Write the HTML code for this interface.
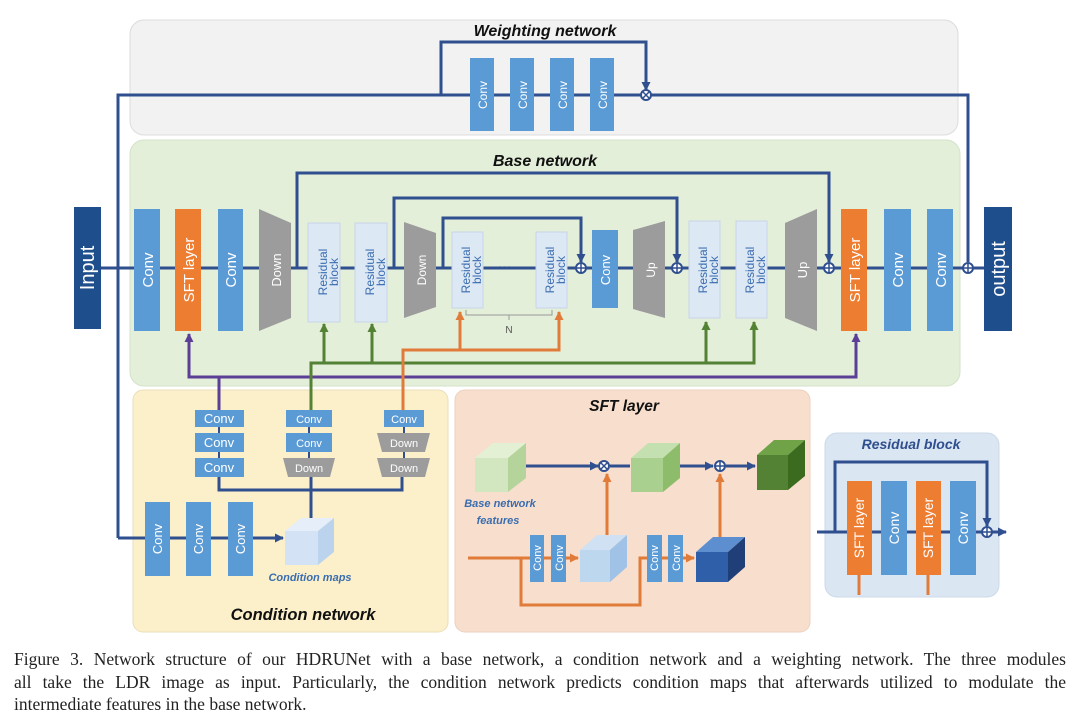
<!DOCTYPE html>
<html><head><meta charset="utf-8"><style>
html,body{margin:0;padding:0;background:#fff;width:1080px;height:728px;overflow:hidden}
svg text{font-family:"Liberation Sans",sans-serif}
.cap{position:absolute;left:14px;top:648px;width:1052px;font-family:"Liberation Serif",serif;font-size:17.5px;line-height:22.5px;color:#222}
.cap div{text-align:justify;text-align-last:justify;white-space:nowrap}
.cap div.last{text-align-last:left}
</style></head><body>
<svg width="1080" height="728" viewBox="0 0 1080 728" xmlns="http://www.w3.org/2000/svg" style="position:absolute;left:0;top:0">
<defs>
<marker id="ab" markerUnits="userSpaceOnUse" markerWidth="9" markerHeight="9" refX="8" refY="4.5" orient="auto"><path d="M0,0L9,4.5L0,9z" fill="#2f4f8f"/></marker>
<marker id="ao" markerUnits="userSpaceOnUse" markerWidth="9" markerHeight="9" refX="8" refY="4.5" orient="auto"><path d="M0,0L9,4.5L0,9z" fill="#e07b39"/></marker>
<marker id="ag" markerUnits="userSpaceOnUse" markerWidth="9" markerHeight="9" refX="8" refY="4.5" orient="auto"><path d="M0,0L9,4.5L0,9z" fill="#548235"/></marker>
<marker id="ap" markerUnits="userSpaceOnUse" markerWidth="9" markerHeight="9" refX="8" refY="4.5" orient="auto"><path d="M0,0L9,4.5L0,9z" fill="#5b3e96"/></marker>
</defs>
<rect x="0" y="0" width="1080" height="728" fill="#fff"/>
<rect x="130" y="20" width="828" height="115" rx="14" fill="#f2f2f2" stroke="#dcdcdc"/>
<rect x="130" y="140" width="830" height="246" rx="14" fill="#e4efda" stroke="#d5e2c9"/>
<rect x="133" y="390" width="315" height="242" rx="10" fill="#fcf0cb" stroke="#eadfb8"/>
<rect x="455" y="390" width="355" height="242" rx="10" fill="#f8dfcd" stroke="#ecd0bd"/>
<rect x="825" y="433" width="174" height="164" rx="12" fill="#dbe6f3" stroke="#ccd9ea"/>
<g font-weight="bold" font-style="italic" fill="#111" text-anchor="middle" font-size="16">
<text x="545" y="36">Weighting network</text>
<text x="545" y="166">Base network</text>
<text x="624" y="411" font-size="15.5">SFT layer</text>
<text x="303" y="620" font-size="16.5">Condition network</text>
</g>
<text x="911" y="449" text-anchor="middle" font-weight="bold" font-style="italic" font-size="14" fill="#2f4f8f">Residual block</text>

<g stroke="#2f4f8f" stroke-width="3" fill="none">
<polyline points="118,538 118,95 968,95 968,262"/>
<polyline points="441,95 441,42 646,42 646,90" marker-end="url(#ab)"/>
<line x1="101" y1="268" x2="984" y2="268"/>
<polyline points="297,268 297,173 829,173 829,262" marker-end="url(#ab)"/>
<polyline points="394,268 394,198 677,198 677,262" marker-end="url(#ab)"/>
<polyline points="443,268 443,218 581,218 581,262" marker-end="url(#ab)"/>
<line x1="118" y1="538" x2="283" y2="538" marker-end="url(#ab)"/>
<polyline points="219,477 219,490 402,490 402,477"/>
<line x1="311" y1="477" x2="311" y2="518"/>
<line x1="219" y1="427" x2="219" y2="458" stroke-width="2"/>
<line x1="309" y1="427" x2="309" y2="458" stroke-width="2"/>
<line x1="404" y1="427" x2="404" y2="458" stroke-width="2"/>
<line x1="526" y1="466" x2="598" y2="466" marker-end="url(#ab)"/>
<line x1="610" y1="466" x2="630" y2="466"/>
<line x1="680" y1="466" x2="713" y2="466" marker-end="url(#ab)"/>
<line x1="726" y1="466" x2="755" y2="466" marker-end="url(#ab)"/>
<line x1="817" y1="532" x2="1006" y2="532" marker-end="url(#ab)"/>
<polyline points="835,532 835,462 987,462 987,526" marker-end="url(#ab)"/>
</g>
<g fill="none" stroke-width="3">
<polyline stroke="#5b3e96" points="219,410 219,377 189,377 189,334" marker-end="url(#ap)"/>
<polyline stroke="#5b3e96" points="219,377 856,377 856,334" marker-end="url(#ap)"/>
<polyline stroke="#548235" points="311,410 311,363 754,363 754,322" marker-end="url(#ag)"/>
<polyline stroke="#548235" points="324,363 324,324" marker-end="url(#ag)"/>
<polyline stroke="#548235" points="372,363 372,324" marker-end="url(#ag)"/>
<polyline stroke="#548235" points="706,363 706,322" marker-end="url(#ag)"/>
<polyline stroke="#e07b39" points="403,410 403,350 559,350 559,312" marker-end="url(#ao)"/>
<polyline stroke="#e07b39" points="460,350 460,312" marker-end="url(#ao)"/>
<line stroke="#e07b39" x1="468" y1="558" x2="578" y2="558" marker-end="url(#ao)"/>
<polyline stroke="#e07b39" points="521,558 521,605 640,605 640,558 694,558" marker-end="url(#ao)"/>
<line stroke="#e07b39" x1="607" y1="535" x2="607" y2="474" marker-end="url(#ao)"/>
<line stroke="#e07b39" x1="720" y1="537" x2="720" y2="474" marker-end="url(#ao)"/>
<line stroke="#e07b39" x1="859" y1="575" x2="859" y2="595"/>
<line stroke="#e07b39" x1="928" y1="575" x2="928" y2="595"/>
</g>
<polyline points="466,310 466,315 552,315 552,310" fill="none" stroke="#999" stroke-width="1"/>
<line x1="509" y1="315" x2="509" y2="320" stroke="#999"/>
<text x="509" y="333" font-size="10" fill="#555" text-anchor="middle">N</text>

<g>
<rect x="74" y="207" width="27" height="122" fill="#1f4e8c"/>
<rect x="984" y="207" width="28" height="124" fill="#1f4e8c"/>
<rect x="134" y="209" width="26" height="122" fill="#5b9bd5"/>
<rect x="175" y="209" width="26" height="122" fill="#ed7d31"/>
<rect x="218" y="209" width="25" height="122" fill="#5b9bd5"/>
<polygon points="259,209 291,223 291,318 259,331" fill="#9c9c9c"/>
<polygon points="404,222 436,233 436,307 404,318" fill="#9c9c9c"/>
<polygon points="633,230 665,221 665,318 633,309" fill="#9c9c9c"/>
<polygon points="785,223 817,209 817,331 785,318" fill="#9c9c9c"/>
<rect x="592" y="230" width="26" height="78" fill="#5b9bd5"/>
<rect x="841" y="209" width="26" height="122" fill="#ed7d31"/>
<rect x="884" y="209" width="27" height="122" fill="#5b9bd5"/>
<rect x="927" y="209" width="26" height="122" fill="#5b9bd5"/>
<g fill="#dde8f5" stroke="#c8d5e8">
<rect x="308" y="223" width="32" height="99"/>
<rect x="355" y="223" width="32" height="99"/>
<rect x="452" y="232" width="31" height="76"/>
<rect x="536" y="232" width="31" height="76"/>
<rect x="689" y="221" width="31" height="97"/>
<rect x="736" y="221" width="31" height="97"/>
</g>
<g fill="#5b9bd5">
<rect x="470" y="58" width="24" height="73"/><rect x="510" y="58" width="24" height="73"/>
<rect x="550" y="58" width="24" height="73"/><rect x="590" y="58" width="24" height="73"/>
<rect x="195" y="410" width="49" height="17"/><rect x="195" y="433" width="49" height="19"/><rect x="195" y="458" width="49" height="19"/>
<rect x="286" y="410" width="46" height="17"/><rect x="286" y="433" width="46" height="19"/>
<rect x="384" y="410" width="40" height="17"/>
<rect x="145" y="502" width="25" height="74"/><rect x="186" y="502" width="25" height="74"/><rect x="228" y="502" width="25" height="74"/>
<rect x="530" y="535" width="14" height="47"/><rect x="551" y="535" width="15" height="47"/>
<rect x="647" y="535" width="15" height="47"/><rect x="668" y="535" width="15" height="47"/>
<rect x="881" y="481" width="26" height="94"/><rect x="950" y="481" width="26" height="94"/>
</g>
<g fill="#ed7d31"><rect x="847" y="481" width="25" height="94"/><rect x="916" y="481" width="25" height="94"/></g>
<g fill="#9c9c9c">
<polygon points="283,458 335,458 330,477 288,477"/>
<polygon points="377,433 430,433 425,452 382,452"/>
<polygon points="377,458 430,458 425,477 382,477"/>
</g>
<g>
<polygon points="475,458 508,458 526,443 493,443" fill="#e3f0d3"/><polygon points="508,458 526,443 526,478 508,492" fill="#b5d49b"/><rect x="475" y="458" width="33" height="34" fill="#d2e7bf"/>
<polygon points="631,458 663,458 680,443 648,443" fill="#c5e0b0"/><polygon points="663,458 680,443 680,478 663,492" fill="#8dbd6a"/><rect x="631" y="458" width="32" height="34" fill="#a9d08e"/>
<polygon points="757,455 788,455 805,440 774,440" fill="#70a348"/><polygon points="788,455 805,440 805,476 788,490" fill="#3b6b1f"/><rect x="757" y="455" width="31" height="35" fill="#548235"/>
<polygon points="580,550 610,550 627,535 597,535" fill="#cfe1f3"/><polygon points="610,550 627,535 627,567 610,582" fill="#9fc2e6"/><rect x="580" y="550" width="30" height="32" fill="#bdd7ee"/>
<polygon points="696,552 728,552 745,537 713,537" fill="#5d8fd0"/><polygon points="728,552 745,537 745,567 728,582" fill="#203f78"/><rect x="696" y="552" width="32" height="30" fill="#2e5fa8"/>
<polygon points="285,531 318,531 334,518 301,518" fill="#e5eef9"/><polygon points="318,531 334,518 334,552 318,565" fill="#bcd3ee"/><rect x="285" y="531" width="33" height="34" fill="#d3e3f5"/>
</g>
</g>
<g fill="#fff" stroke="#2f4f8f" stroke-width="2">
<circle cx="646" cy="95" r="5"/><circle cx="581" cy="268" r="5"/><circle cx="677" cy="268" r="5"/><circle cx="829" cy="268" r="5"/><circle cx="968" cy="268" r="5"/><circle cx="604" cy="466" r="5"/><circle cx="720" cy="466" r="5"/><circle cx="987" cy="532" r="5"/>
</g>
<g stroke="#2f4f8f" stroke-width="1.5">
<path d="M643,92l6,6M649,92l-6,6M601,463l6,6M607,463l-6,6"/>
<path d="M581,263v10M576,268h10M677,263v10M672,268h10M829,263v10M824,268h10M968,263v10M963,268h10M720,461v10M715,466h10M987,527v10M982,532h10"/>
</g>
<text x="505" y="272" font-size="14" fill="#2f4f8f" text-anchor="middle" font-weight="bold">···</text>
<g fill="#fff" text-anchor="middle">
<text transform="translate(94,268) rotate(-90)" font-size="20">Input</text>
<text transform="translate(1005,269) rotate(-90)" font-size="20">output</text>
<g font-size="15">
<text transform="translate(153,270) rotate(-90)">Conv</text>
<text transform="translate(194,270) rotate(-90)">SFT layer</text>
<text transform="translate(236,270) rotate(-90)">Conv</text>
<text transform="translate(281,270) rotate(-90)" font-size="13">Down</text>
<text transform="translate(426,270) rotate(-90)" font-size="12">Down</text>
<text transform="translate(655,270) rotate(-90)" font-size="12">Up</text>
<text transform="translate(807,270) rotate(-90)" font-size="13">Up</text>
<text transform="translate(610,270) rotate(-90)" font-size="13">Conv</text>
<text transform="translate(860,270) rotate(-90)">SFT layer</text>
<text transform="translate(903,270) rotate(-90)">Conv</text>
<text transform="translate(946,270) rotate(-90)">Conv</text>
</g>
<g font-size="12">
<text transform="translate(487,95) rotate(-90)">Conv</text><text transform="translate(527,95) rotate(-90)">Conv</text><text transform="translate(567,95) rotate(-90)">Conv</text><text transform="translate(607,95) rotate(-90)">Conv</text>
<text transform="translate(162,539) rotate(-90)" font-size="13">Conv</text><text transform="translate(203,539) rotate(-90)" font-size="13">Conv</text><text transform="translate(245,539) rotate(-90)" font-size="13">Conv</text>
<text transform="translate(541,558) rotate(-90)" font-size="11">Conv</text><text transform="translate(563,558) rotate(-90)" font-size="11">Conv</text>
<text transform="translate(658,558) rotate(-90)" font-size="11">Conv</text><text transform="translate(680,558) rotate(-90)" font-size="11">Conv</text>
<text transform="translate(864,528) rotate(-90)" font-size="14">SFT layer</text><text transform="translate(899,528) rotate(-90)" font-size="14">Conv</text>
<text transform="translate(933,528) rotate(-90)" font-size="14">SFT layer</text><text transform="translate(968,528) rotate(-90)" font-size="14">Conv</text>
</g>
<g font-size="13">
<text x="219" y="423">Conv</text><text x="219" y="447">Conv</text><text x="219" y="472">Conv</text>
<text x="309" y="423" font-size="11">Conv</text><text x="309" y="447" font-size="11">Conv</text><text x="309" y="472" font-size="11">Down</text>
<text x="404" y="423" font-size="11">Conv</text><text x="404" y="447" font-size="11">Down</text><text x="404" y="472" font-size="11">Down</text>
</g>
</g>
<g fill="#3a6db0" text-anchor="middle" font-size="12">
<text transform="translate(327,272) rotate(-90)">Residual</text><text transform="translate(338,272) rotate(-90)">block</text>
<text transform="translate(374,272) rotate(-90)">Residual</text><text transform="translate(385,272) rotate(-90)">block</text>
<text transform="translate(470,270) rotate(-90)">Residual</text><text transform="translate(481,270) rotate(-90)">block</text>
<text transform="translate(554,270) rotate(-90)">Residual</text><text transform="translate(565,270) rotate(-90)">block</text>
<text transform="translate(707,270) rotate(-90)">Residual</text><text transform="translate(718,270) rotate(-90)">block</text>
<text transform="translate(754,270) rotate(-90)">Residual</text><text transform="translate(765,270) rotate(-90)">block</text>
</g>
<g fill="#3a6db0" font-style="italic" font-weight="bold" font-size="11" text-anchor="middle">
<text x="500" y="507">Base network</text><text x="498" y="524">features</text>
<text x="310" y="581">Condition maps</text>
</g>
</svg>
<div class="cap">
<div>Figure 3. Network structure of our HDRUNet with a base network, a condition network and a weighting network. The three modules</div>
<div>all take the LDR image as input. Particularly, the condition network predicts condition maps that afterwards utilized to modulate the</div>
<div class="last">intermediate features in the base network.</div>
</div>
</body></html>
